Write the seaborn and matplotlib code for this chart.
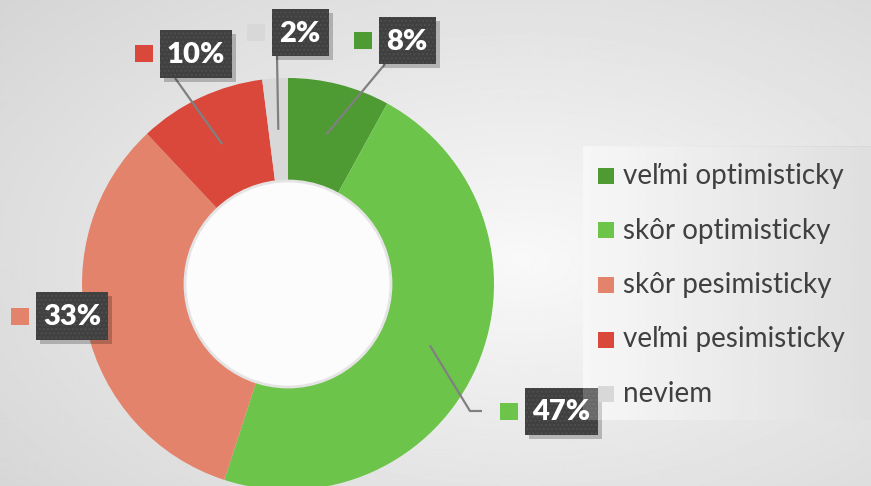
import numpy as np
import matplotlib.pyplot as plt
import matplotlib.patches as mpatches
import seaborn as sns

# data
categories = ['veľmi optimisticky', 'skôr optimisticky', 'skôr pesimisticky',
              'veľmi pesimisticky', 'neviem']
shares = [8, 47, 33, 10, 2]
percent_labels = ['8%', '47%', '33%', '10%', '2%']
colors = ['#4F9B33', '#6CC54A', '#E3836B', '#D9483B', '#D8D8D8']

# layout in pixels (origin top-left)
W, H = 871, 486
CX, CY, R_OUT, R_IN = 288, 284, 206, 103
# label box: center x, center y, width, height
label_boxes = [(407, 41, 57, 47), (561, 411, 73, 47), (72, 316, 72, 48),
               (196, 54, 72, 48), (300, 33, 57, 47)]
# leader line end points, None = no line
leader_ends = [[(385, 64)], [(470, 411), (482, 411)], None,
               [(175, 78)], [(277, 56)]]


def fy(y):
    return H - y


sns.set_theme(style='white')
plt.rcParams['font.family'] = ['Lato', 'DejaVu Sans']

fig = plt.figure(figsize=(W / 100, H / 100), dpi=100)
ax = fig.add_axes([0, 0, 1, 1])

# background vignette
xx, yy = np.meshgrid(np.arange(W), np.arange(H))
d = np.sqrt(((xx - 520) / 520) ** 2 + ((yy - 260) / 300) ** 2)
bg = 0.975 - 0.15 * np.clip(d, 0, 1.4) / 1.4
ax.imshow(bg, extent=(0, W, 0, H), origin='upper', cmap='gray',
          vmin=0, vmax=1, zorder=0, aspect='auto')

# legend panel
panel = np.tile(np.linspace(0.96, 0.84, 200), (50, 1))
ax.imshow(panel, extent=(583, W, fy(420), fy(147)), origin='upper',
          cmap='gray', vmin=0, vmax=1, zorder=0.5, aspect='auto')

palette = sns.color_palette(colors)
wedges, _ = ax.pie(shares, colors=palette, startangle=90, counterclock=False,
                   center=(CX, fy(CY)), radius=R_OUT,
                   wedgeprops=dict(width=R_OUT - R_IN, edgecolor='none'))
for w in wedges:
    w.set_zorder(2)

hole = mpatches.Circle((CX, fy(CY)), R_IN, facecolor='#FCFCFC',
                       edgecolor='#E4E4E4', lw=2, zorder=2.5)
ax.add_patch(hole)

# leader lines start inside each slice at mid angle
cum = np.cumsum([0] + shares[:-1])
total = sum(shares)
for i, ends in enumerate(leader_ends):
    if ends is None:
        continue
    mid = (cum[i] + shares[i] / 2) / total * 2 * np.pi
    r = 0.75 * R_OUT
    sx, sy = CX + r * np.sin(mid), CY - r * np.cos(mid)
    xs = [sx] + [p[0] for p in ends]
    ys = [fy(sy)] + [fy(p[1]) for p in ends]
    ax.plot(xs, ys, color='#808080', lw=1.6, zorder=3, solid_capstyle='butt')

# data labels
for (bx, by, bw, bh), lab, col in zip(label_boxes, percent_labels, palette):
    shadow = mpatches.Rectangle((bx - bw / 2 + 4, fy(by + bh / 2) - 4), bw, bh,
                                facecolor='black', alpha=0.22, lw=0, zorder=4)
    box = mpatches.Rectangle((bx - bw / 2, fy(by + bh / 2)), bw, bh,
                             facecolor='#404040', edgecolor='#4E4E4E',
                             hatch='....', lw=0, zorder=5)
    ax.add_patch(shadow)
    ax.add_patch(box)
    ax.text(bx, fy(by) - 1, lab, ha='center', va='center', color='white',
            fontsize=21, fontweight='heavy', zorder=6)
    mk = mpatches.Rectangle((bx - bw / 2 - 25, fy(by + 8.5)), 18, 17,
                            facecolor=col, lw=0, zorder=5)
    ax.add_patch(mk)

# translucent legend overlay (sits over the 47% box edge)
ax.add_patch(mpatches.Rectangle((583, fy(420)), W - 583, 420 - 147,
                                facecolor='white', alpha=0.22, lw=0,
                                zorder=6.5))

# legend
for i, (cat, col) in enumerate(zip(categories, palette)):
    ly = 176 + i * 54.5
    ax.add_patch(mpatches.Rectangle((598, fy(ly + 8)), 16, 16, facecolor=col,
                                    lw=0, zorder=7))
    ax.text(623, fy(ly), cat, ha='left', va='center', color='#404040',
            fontsize=20, zorder=7)

ax.set_xlim(0, W)
ax.set_ylim(0, H)
ax.set_aspect('auto')
ax.axis('off')

fig.savefig('out.png', dpi=100)
